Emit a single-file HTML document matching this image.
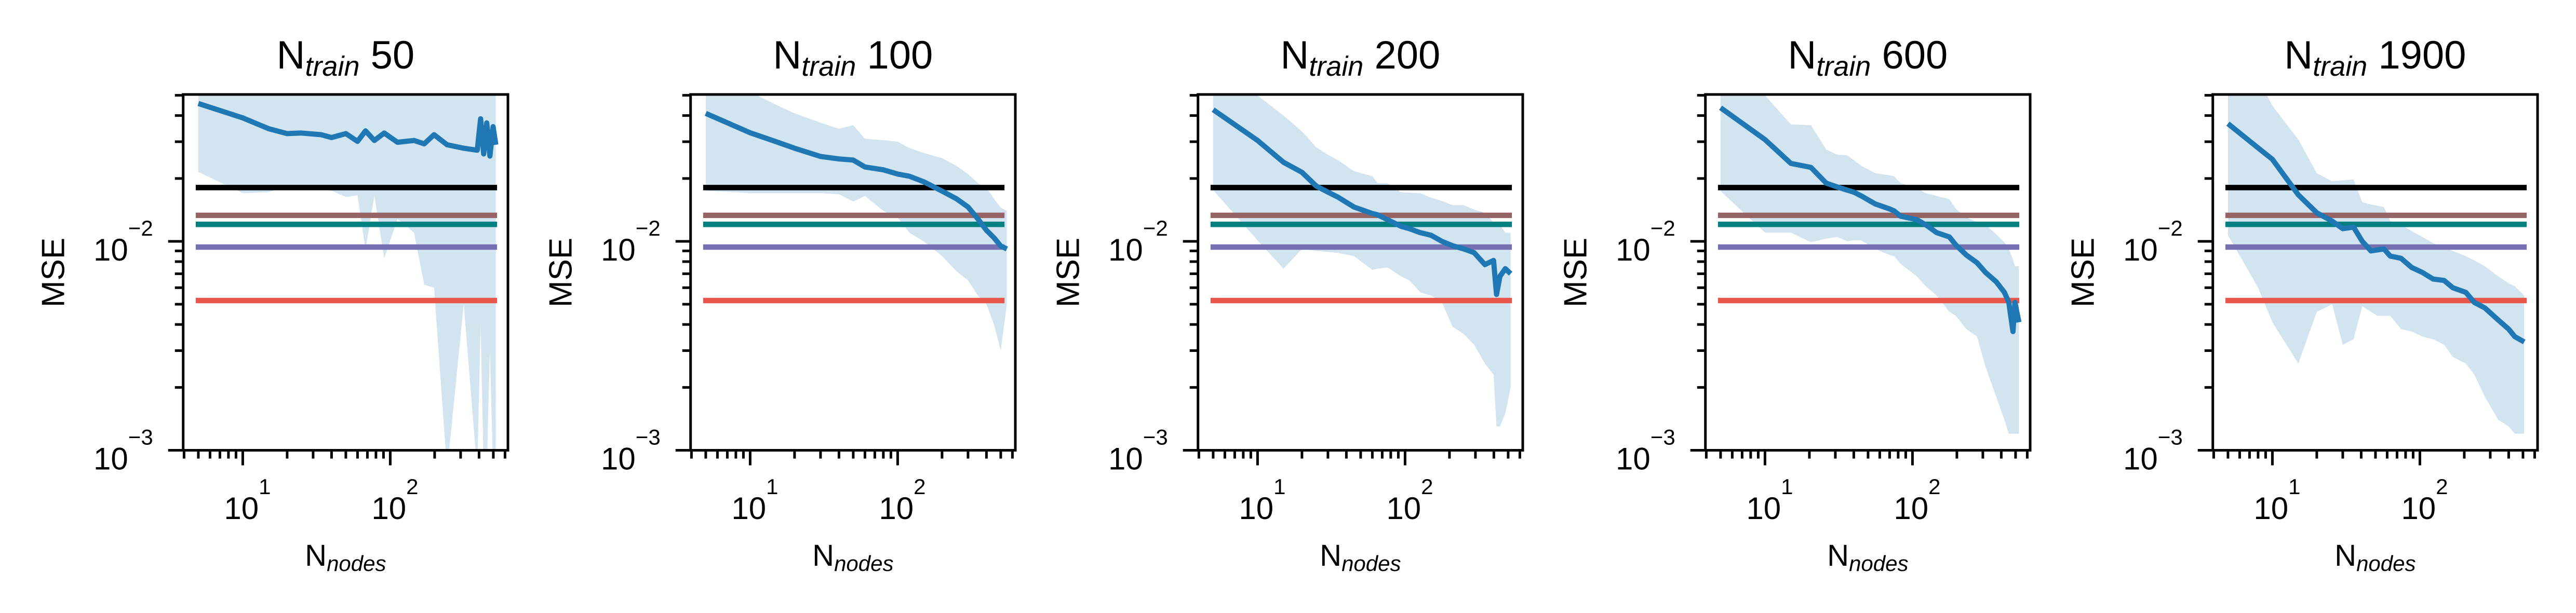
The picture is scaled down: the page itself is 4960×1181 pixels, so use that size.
<!DOCTYPE html>
<html><head><meta charset="utf-8"><style>
html,body{margin:0;padding:0;background:#fff}
svg{display:block;font-family:"Liberation Sans",Arial,sans-serif}
</style></head><body>
<svg id="chart" xmlns="http://www.w3.org/2000/svg" width="4960" height="1181" viewBox="0 0 4960 1181"></svg>
<script>
const titles = ["50","100","200","600","1900"];
const x1 = [5,10,15,20,25,34,40,50,60,68,78,91,112,145,170,198,243,315,389,410,430,451,474,498,520];
const m1 = [0.0457,0.039,0.0346,0.0328,0.033,0.0324,0.0314,0.0328,0.0301,0.0338,0.0304,0.033,0.0298,0.0304,0.0293,0.0324,0.029,0.0279,0.0273,0.0386,0.0262,0.0369,0.0256,0.0354,0.029];
const lo1 = [0.0215,0.017,0.0172,0.0185,0.018,0.0178,0.0175,0.0163,0.0166,0.0091,0.0166,0.0083,0.0128,0.011,0.0062,0.006,0.0008,0.005,0.0008,0.004,0.0008,0.0008,0.003,0.0008,0.0008];
const hi1 = [0.06,0.06,0.06,0.06,0.06,0.06,0.06,0.06,0.06,0.06,0.06,0.06,0.06,0.06,0.06,0.06,0.06,0.06,0.06,0.06,0.06,0.06,0.06,0.06,0.06];
const x2 = [5,10,15,20,30,40,50,60,80,100,120,150,200,250,300,350,400,450,500,550];
const m2 = [0.041,0.0331,0.030,0.0279,0.0255,0.0248,0.0245,0.0227,0.022,0.021,0.0205,0.0193,0.0174,0.016,0.0146,0.0128,0.0113,0.0104,0.0095,0.0092];
const lo2 = [0.0175,0.017,0.017,0.017,0.017,0.0168,0.0155,0.0165,0.014,0.013,0.011,0.010,0.0085,0.0072,0.0065,0.0055,0.005,0.004,0.003,0.005];
const hi2 = [0.06,0.052,0.045,0.041,0.037,0.0346,0.036,0.031,0.0305,0.030,0.028,0.0265,0.025,0.023,0.021,0.019,0.018,0.016,0.0145,0.014];
const x3 = [5,10,15,20,25,30,35,45,60,65,76,94,107,127,150,178,210,250,294,348,398,417,440,478,520];
const m3 = [0.0427,0.0304,0.0239,0.0214,0.0184,0.0172,0.0163,0.0146,0.0136,0.0134,0.0127,0.0118,0.0115,0.0110,0.0107,0.0100,0.00953,0.0092,0.00883,0.00774,0.0081,0.00557,0.0068,0.0074,0.0070];
const lo3 = [0.0176,0.0101,0.0074,0.0092,0.009,0.0089,0.0088,0.0085,0.0073,0.0074,0.0075,0.0068,0.0065,0.0057,0.0055,0.0051,0.0039,0.0036,0.0032,0.0026,0.0023,0.0013,0.0013,0.0015,0.002];
const hi3 = [0.06,0.05,0.04,0.0336,0.0282,0.026,0.0245,0.0217,0.0205,0.019,0.019,0.0172,0.0171,0.017,0.0162,0.0156,0.0149,0.0149,0.0142,0.0137,0.0123,0.0123,0.012,0.011,0.011];
const x4 = [5,10,15,20.5,26,31,36,40,45,56,70,75,83,107,123,146,178,197,232,274,313,370,420,450,480,495,527];
const m4 = [0.0436,0.0307,0.0236,0.0226,0.019,0.0182,0.0176,0.0172,0.0165,0.0151,0.0143,0.014,0.0132,0.0127,0.012,0.011,0.0105,0.0096,0.0086,0.0079,0.0071,0.0064,0.0057,0.0051,0.0037,0.0051,0.0041];
const lo4 = [0.0174,0.011,0.011,0.0099,0.0103,0.0105,0.0100,0.0101,0.0101,0.0092,0.0086,0.0085,0.0078,0.0068,0.0061,0.0055,0.0046,0.0044,0.0038,0.0035,0.0025,0.0018,0.0014,0.0012,0.0012,0.0012,0.0012];
const hi4 = [0.06,0.05,0.0363,0.036,0.0275,0.026,0.0258,0.0245,0.023,0.0212,0.0207,0.0205,0.019,0.018,0.017,0.0165,0.0159,0.0143,0.013,0.0124,0.012,0.0108,0.0099,0.0092,0.0082,0.0076,0.0076];
const x5 = [5,8,10,15,20,25.4,30,35.5,40.7,46.6,51.5,57,63,74.5,88,104,123,146,167,205,234,276,340,400,440,510];
const m5 = [0.0366,0.028,0.0247,0.0167,0.0137,0.0125,0.0115,0.0117,0.0100,0.0090,0.0091,0.0092,0.0085,0.0083,0.0075,0.0071,0.0066,0.0065,0.0060,0.0057,0.0051,0.0048,0.0042,0.0038,0.0035,0.0033];
const lo5 = [0.0107,0.0060,0.0041,0.0026,0.0046,0.005,0.0032,0.0034,0.0049,0.0046,0.0044,0.0044,0.0044,0.0038,0.0037,0.0035,0.0034,0.0032,0.0028,0.0026,0.0023,0.0018,0.0014,0.0013,0.0012,0.0012];
const hi5 = [0.06,0.06,0.0446,0.0307,0.0212,0.0194,0.0196,0.0198,0.0154,0.0150,0.0148,0.0146,0.0125,0.0120,0.0112,0.0105,0.0098,0.0094,0.0090,0.0085,0.0081,0.0076,0.0068,0.0063,0.0061,0.0055];
const baselineValues = [0.01809,0.01332,0.01206,0.00939,0.00521];
const baselineNames = ["baseline-black","baseline-brown","baseline-teal","baseline-purple","baseline-red"];
const baselineColors = ["#000000","#966464","#008080","#7570b0","#e8554a"];
const baselineXRange = [4.8,530];
const xTickMajors = [10,100];
const xTickLabels = ["1","2"];
const yTickMajors = [0.001,0.01];
const yTickLabels = ["\u22123","\u22122"];

const panelsX = [x1,x2,x3,x4,x5], panelsM = [m1,m2,m3,m4,m5], panelsLo = [lo1,lo2,lo3,lo4,lo5], panelsHi = [hi1,hi2,hi3,hi4,hi5];
const NS = "http://www.w3.org/2000/svg";
const svg = document.getElementById("chart");
function mk(tag, attrs, parent){const e=document.createElementNS(NS,tag);for(const k in attrs)e.setAttribute(k,attrs[k]);(parent||svg).appendChild(e);return e;}
const W=625.3, T=182, B=867.5;
const defs = mk("defs",{});
for(let i=0;i<5;i++){
  const L = 352.7 + 977*i;
  const xs = v => L + 114.7 + 284*(Math.log10(v)-1);
  const ys = v => 465 - 402.5*(Math.log10(v)+2);
  const g = mk("g",{});
  
  
  const cp = mk("clipPath",{id:"clip"+i},defs);
  mk("rect",{x:L,y:T,width:W,height:B-T},cp);
  const plot = mk("g",{"clip-path":"url(#clip"+i+")"},g);
  const X=panelsX[i],M=panelsM[i],LO=panelsLo[i],HI=panelsHi[i];
  let pts=[];
  for(let k=0;k<X.length;k++) pts.push(xs(X[k]).toFixed(1)+","+ys(HI[k]).toFixed(1));
  for(let k=X.length-1;k>=0;k--) pts.push(xs(X[k]).toFixed(1)+","+ys(LO[k]).toFixed(1));
  const band = mk("polygon",{points:pts.join(" "),fill:"#1f77b4","fill-opacity":"0.2"},plot);
  
  
  for(let h=0;h<baselineValues.length;h++){
    const ln = mk("line",{x1:xs(baselineXRange[0]),x2:xs(baselineXRange[1]),y1:ys(baselineValues[h]),y2:ys(baselineValues[h]),stroke:baselineColors[h],"stroke-width":"10.5"},plot);
    
    
  }
  const mp = X.map((v,k)=>xs(v).toFixed(1)+","+ys(M[k]).toFixed(1)).join(" ");
  const line = mk("polyline",{points:mp,fill:"none",stroke:"#1f77b4","stroke-width":"10","stroke-linejoin":"round"},plot);
  
  
  const fr = mk("rect",{x:L,y:T,width:W,height:B-T,fill:"none",stroke:"#000","stroke-width":"5"},g);
  
  
  for(let d=-3; d<=-2; d++){
    for(let m=1;m<=9;m++){
      const v=m*Math.pow(10,d); const y=ys(v);
      if(y<T-1||y>B+1) continue;
      const len = m===1?29:16;
      mk("line",{x1:L-len,x2:L,y1:y,y2:y,stroke:"#000","stroke-width":"5"},g);
    }
  }
  for(let t=0;t<yTickMajors.length;t++){
    const y=ys(yTickMajors[t]);
    const tx = mk("text",{x:L-58,y:y+37,"text-anchor":"end","font-size":"60"},g);
    
    
    const a=mk("tspan",{},tx); a.textContent="10";
    const b=mk("tspan",{dy:"-48","font-size":"42"},tx); b.textContent=yTickLabels[t];
  }
  for(let d=0; d<=2; d++){
    for(let m=1;m<=9;m++){
      const v=m*Math.pow(10,d); const x=xs(v);
      if(x<L-1||x>L+W+1) continue;
      const len = m===1?29:16;
      mk("line",{x1:x,x2:x,y1:B,y2:B+len,stroke:"#000","stroke-width":"5"},g);
    }
  }
  for(let t=0;t<xTickMajors.length;t++){
    const x=xs(xTickMajors[t]);
    const tx = mk("text",{x:x+9,y:1000,"text-anchor":"middle","font-size":"60"},g);
    
    
    const a=mk("tspan",{},tx); a.textContent="10";
    const b=mk("tspan",{dy:"-48","font-size":"42"},tx); b.textContent=xTickLabels[t];
  }
  const ti = mk("text",{x:L+W/2,y:132,"text-anchor":"middle","font-size":"76"},g);
  
  
  const t1=mk("tspan",{},ti); t1.textContent="N";
  const t2=mk("tspan",{dy:"14","font-size":"54","font-style":"italic"},ti); t2.textContent="train";
  const t3=mk("tspan",{dy:"-14"},ti); t3.textContent=" "+titles[i];
  const xl = mk("text",{x:L+W/2,y:1090,"text-anchor":"middle","font-size":"58"},g);
  
  
  const x1s=mk("tspan",{},xl); x1s.textContent="N";
  const x2s=mk("tspan",{dy:"10","font-size":"42","font-style":"italic"},xl); x2s.textContent="nodes";
  const yl = mk("text",{transform:"translate("+(L-229)+",525) rotate(-90)","text-anchor":"middle","font-size":"62"},g);
  
  
  yl.textContent="MSE";
}
</script>
</body></html>
